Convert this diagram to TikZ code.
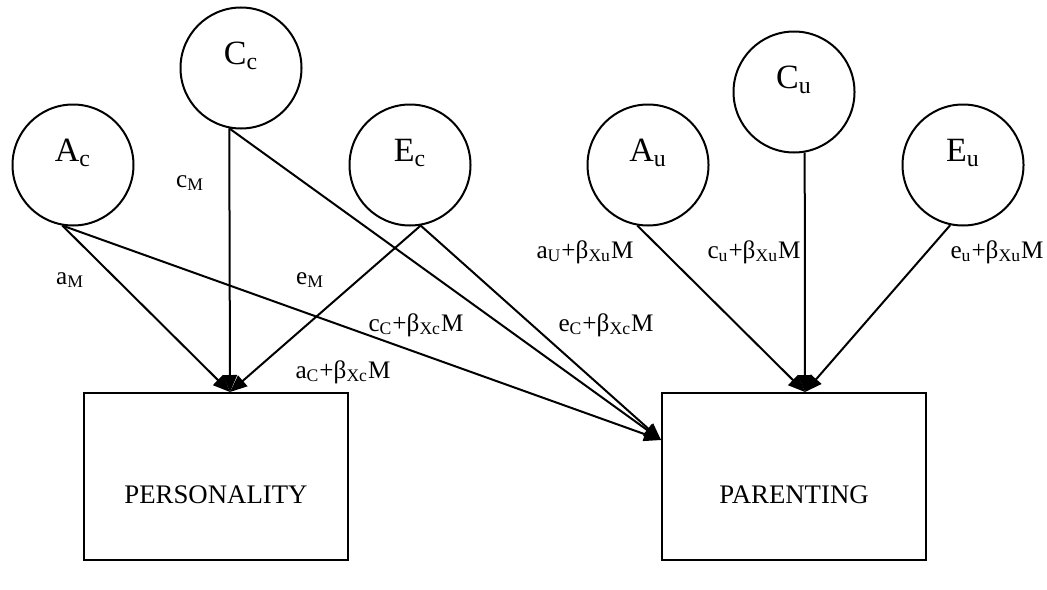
\documentclass[tikz,border=0pt]{standalone}
\usepackage{fontspec}
\setmainfont{Liberation Serif}
\usetikzlibrary{positioning, arrows.meta}

\begin{document}
\begin{tikzpicture}[
			x=0.5pt, y=-0.5pt,
			latent/.style={circle, draw, line width=1pt, minimum size=60.5pt, inner sep=0pt,
				text height=11pt, text depth=15pt, font=\fontsize{17}{19}\selectfont},
			observed/.style={rectangle, draw, line width=1pt, minimum width=132pt, minimum height=83.5pt,
				inner sep=0pt, text height=26.5pt, text depth=0pt, font=\fontsize{13.4}{15}\selectfont},
			coef/.style={inner sep=0pt, font=\fontsize{12.6}{14}\selectfont},
			arrow/.style={-{Triangle[length=8.5pt, width=7pt]}, line width=1pt}
			]
			\useasboundingbox (0,0) rectangle (1047,589);
			
			% Child factors
			\node[latent] (A_c) at (73,165) {A\textsubscript{c}};
			\node[latent] (C_c) at (241,68) {C\textsubscript{c}};
			\node[latent] (E_c) at (410,165) {E\textsubscript{c}};
			
			% Unique factors
			\node[latent] (A_u) at (648,165) {A\textsubscript{u}};
			\node[latent] (C_u) at (794,92) {C\textsubscript{u}};
			\node[latent] (E_u) at (963,165) {E\textsubscript{u}};
			
			% Measured variables
			\node[observed] (pers) at (216,476.5) {PERSONALITY};
			\node[observed] (par) at (794,476.5) {PARENTING};
			
			% Paths to personality
			\draw[arrow] (A_c.-100) -- ([xshift=7pt]pers.north);
			\draw[arrow] (C_c.-101) -- ([xshift=7pt]pers.north);
			\draw[arrow] (E_c.-80) -- ([xshift=7pt]pers.north);
			
			% Paths to parenting
			\draw[arrow] (A_c.-100) -- ([yshift=18.25pt]par.west);
			\draw[arrow] (C_c.-101) -- ([yshift=18.25pt]par.west);
			\draw[arrow] (E_c.-80) -- ([yshift=18.25pt]par.west);
			\draw[arrow] (A_u.-100) -- ([xshift=5.5pt]par.north);
			\draw[arrow] (C_u.-80) -- ([xshift=5.5pt]par.north);
			\draw[arrow] (E_u.-102) -- ([xshift=5.5pt]par.north);
			
			% Path labels
			\node[coef] (l_aM) at (70,280) {a\textsubscript{M}};
			\node[coef] (l_cM) at (190,183) {c\textsubscript{M}};
			\node[coef] (l_eM) at (310,280) {e\textsubscript{M}};
			\node[coef] (l_cC) at (416,325) {c\textsubscript{C}+β\textsubscript{Xc}M};
			\node[coef] (l_eC) at (606,325) {e\textsubscript{C}+β\textsubscript{Xc}M};
			\node[coef] (l_aC) at (343,372) {a\textsubscript{C}+β\textsubscript{Xc}M};
			\node[coef] (l_aU) at (585,252) {a\textsubscript{U}+β\textsubscript{Xu}M};
			\node[coef] (l_cu) at (754,252) {c\textsubscript{u}+β\textsubscript{Xu}M};
			\node[coef] (l_eu) at (997,252) {e\textsubscript{u}+β\textsubscript{Xu}M};
			
		\end{tikzpicture}
\end{document}
